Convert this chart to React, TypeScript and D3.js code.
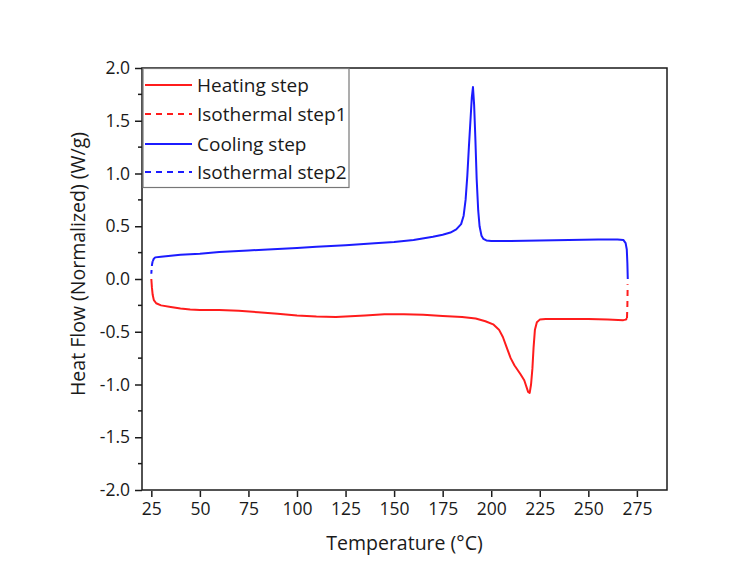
import * as d3 from "d3";
import { useRef, useEffect } from "react";

const width = 756;
const height = 582;
const margin = { left: 142, right: 89, top: 68, bottom: 92 };

// heating step (solid red)
const heatT = [25.0, 25.3, 25.7, 26.3, 27.5, 30, 35, 40, 45, 50, 60, 70, 80, 90, 100, 110, 120, 125, 135, 145, 155, 165, 175, 185, 192, 197, 201, 204, 206, 208, 210, 212, 215, 217, 219, 219.8, 220.5, 221.2, 221.8, 222.5, 223.5, 225, 228, 240, 250, 260, 268, 269.3, 269.9];
const heatHF = [0.0, -0.08, -0.15, -0.2, -0.23, -0.25, -0.265, -0.28, -0.29, -0.295, -0.295, -0.3, -0.315, -0.33, -0.345, -0.355, -0.36, -0.355, -0.345, -0.335, -0.335, -0.34, -0.35, -0.36, -0.375, -0.4, -0.43, -0.48, -0.55, -0.65, -0.75, -0.82, -0.9, -0.96, -1.07, -1.08, -1.0, -0.85, -0.65, -0.48, -0.41, -0.385, -0.38, -0.38, -0.38, -0.385, -0.39, -0.385, -0.37];

// isothermal step 1 (dashed red)
const iso1T = [269.9, 270.1, 270.2, 270.2];
const iso1HF = [-0.37, -0.25, -0.12, -0.05];

// cooling step (solid blue)
const coolT = [270.3, 270.1, 269.8, 269.2, 268, 265, 255, 240, 225, 210, 200, 197.5, 196, 195, 194, 193.3, 192.5, 191.8, 191.2, 190.6, 190.0, 189.3, 188.5, 187.7, 186.8, 185.8, 184.5, 182, 179, 175, 170, 160, 150, 140, 125, 110, 100, 85, 75, 60, 50, 40, 30, 27, 26.2, 25.8];
const coolHF = [0.0, 0.15, 0.28, 0.34, 0.37, 0.375, 0.375, 0.37, 0.365, 0.36, 0.36, 0.365, 0.38, 0.41, 0.5, 0.65, 0.95, 1.35, 1.65, 1.82, 1.72, 1.5, 1.25, 0.98, 0.75, 0.6, 0.52, 0.47, 0.44, 0.42, 0.4, 0.37, 0.35, 0.34, 0.32, 0.305, 0.295, 0.28, 0.27, 0.255, 0.24, 0.23, 0.21, 0.205, 0.19, 0.17];

// isothermal step 2 (dashed blue)
const iso2T = [25.7, 25.4, 25.2, 25.1, 25.0];
const iso2HF = [0.17, 0.14, 0.11, 0.08, 0.05];

const xTicks = [25, 50, 75, 100, 125, 150, 175, 200, 225, 250, 275];
const yTicks = [2.0, 1.5, 1.0, 0.5, 0.0, -0.5, -1.0, -1.5, -2.0];
const yMinor = [1.75, 1.25, 0.75, 0.25, -0.25, -0.75, -1.25, -1.75];

const legendNames = ["Heating step", "Isothermal step1", "Cooling step", "Isothermal step2"];
const red = "#ff1c1c";
const blue = "#1c1cff";
const ink = "#1a1a1a";
const font = "'Open Sans', sans-serif";

export default function App() {
  const xAxisRef = useRef(null);
  const yAxisRef = useRef(null);

  const xScale = d3
    .scaleLinear()
    .domain([20.2, 290.5])
    .range([margin.left, width - margin.right]);
  const yScale = d3
    .scaleLinear()
    .domain([-2, 2])
    .range([height - margin.bottom, margin.top]);

  const path = (T: number[], H: number[]) =>
    d3
      .line<number>()
      .x((i) => xScale(T[i]))
      .y((i) => yScale(H[i]))(d3.range(T.length)) || "";

  const series = [
    { d: path(heatT, heatHF), color: red, dash: null },
    { d: path(iso1T, iso1HF), color: red, dash: "6,5" },
    { d: path(coolT, coolHF), color: blue, dash: null },
    { d: path(iso2T, iso2HF), color: blue, dash: "5,4" },
  ];

  useEffect(() => {
    if (!xAxisRef.current) return;
    const g = d3.select(xAxisRef.current);
    g.selectAll("*").remove();
    g.call(d3.axisBottom(xScale).tickValues(xTicks).tickSize(7).tickPadding(6).tickSizeOuter(0));
    g.select(".domain").remove();
    g.selectAll(".tick line").attr("stroke", ink).attr("stroke-width", 1.5).attr("y1", 1);
    g.selectAll(".tick text").style("font-family", font).style("font-size", "17.5px").attr("fill", ink);
  }, []);

  useEffect(() => {
    if (!yAxisRef.current) return;
    const g = d3.select(yAxisRef.current);
    g.selectAll("*").remove();
    g.call(
      d3
        .axisLeft(yScale)
        .tickValues(yTicks)
        .tickFormat((d) => d3.format(".1f")(d as number).replace("−", "-"))
        .tickSize(7)
        .tickPadding(5)
        .tickSizeOuter(0)
    );
    g.select(".domain").remove();
    g.selectAll(".tick line").attr("stroke", ink).attr("stroke-width", 1.5);
    g.selectAll(".tick text").style("font-family", font).style("font-size", "17.5px").attr("fill", ink);
    g.selectAll(".minor")
      .data(yMinor)
      .enter()
      .append("line")
      .attr("class", "minor")
      .attr("x1", -4)
      .attr("x2", 0)
      .attr("y1", (d) => yScale(d))
      .attr("y2", (d) => yScale(d))
      .attr("stroke", ink)
      .attr("stroke-width", 1.5);
  }, []);

  const x0 = margin.left;
  const x1 = width - margin.right;
  const y0 = margin.top;
  const y1 = height - margin.bottom;

  const legendRows = [85, 114, 144, 172];

  return (
    <svg
      width={width}
      height={height}
      style={{ position: "absolute", left: 0, top: 0, background: "#fff" }}
    >
      <rect x={0} y={0} width={width} height={height} fill="#fff" />
      {series.map((s, i) => (
        <path
          key={i}
          d={s.d}
          fill="none"
          stroke={s.color}
          strokeWidth={2}
          strokeDasharray={s.dash || undefined}
          strokeLinejoin="round"
          strokeLinecap="butt"
        />
      ))}
      <rect x={x0} y={y0} width={x1 - x0} height={y1 - y0} fill="none" stroke={ink} strokeWidth={1.5} />
      <g ref={xAxisRef} transform={`translate(0,${y1})`} />
      <g ref={yAxisRef} transform={`translate(${x0},0)`} />

      {/* legend */}
      <rect x={143} y={68.5} width={206} height={119} fill="#fff" stroke="#777" strokeWidth={1.2} />
      {legendNames.map((name, i) => (
        <g key={name}>
          <line
            x1={145}
            x2={192}
            y1={legendRows[i]}
            y2={legendRows[i]}
            stroke={series[i].color}
            strokeWidth={2}
            strokeDasharray={series[i].dash ? "6,5" : undefined}
          />
          <text x={197} y={legendRows[i]} dy="0.35em" fontFamily={font} fontSize={19} fill={ink}>
            {name}
          </text>
        </g>
      ))}

      <text
        x={(x0 + x1) / 2}
        y={550}
        textAnchor="middle"
        fontFamily={font}
        fontSize={19.5}
        fill={ink}
      >
        Temperature (°C)
      </text>
      <text
        transform={`translate(85,264) rotate(-90)`}
        textAnchor="middle"
        fontFamily={font}
        fontSize={19.5}
        fill={ink}
      >
        Heat Flow (Normalized) (W/g)
      </text>
    </svg>
  );
}
